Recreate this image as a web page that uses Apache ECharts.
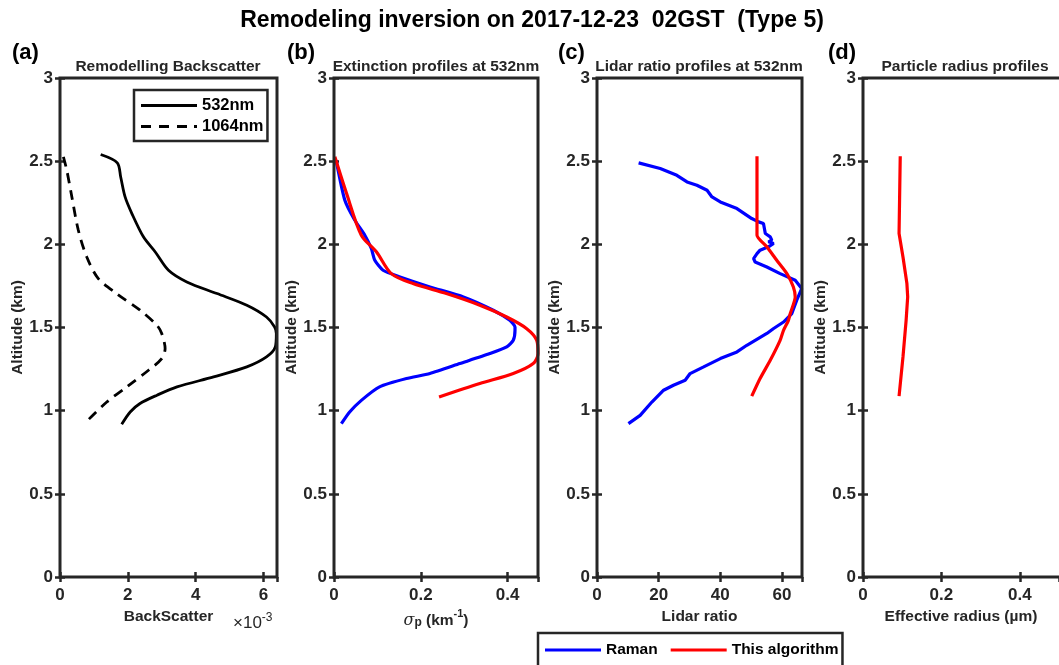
<!DOCTYPE html>
<html>
<head>
<meta charset="utf-8">
<script src="https://cdn.jsdelivr.net/npm/echarts@6/dist/echarts.min.js"></script>
<style>
html,body{margin:0;padding:0;background:#fff;}
#chart{width:1059px;height:665px;}
</style>
</head>
<body>
<div id="chart"></div>
<script>
// ---- Data ----
// Panel (a): backscatter in units of 1e-3, altitude in km
var bsc532Val = [1.20,1.69,1.79,1.92,2.12,2.46,2.81,3.20,3.74,4.63,5.51,6.09,6.33,6.38,6.35,6.09,5.51,4.53,3.45,2.86,2.36,2.07,1.82];
var bsc532Alt = [2.54,2.49,2.405,2.285,2.185,2.045,1.954,1.844,1.774,1.704,1.634,1.563,1.503,1.464,1.383,1.323,1.263,1.203,1.143,1.093,1.043,0.992,0.918];
var bsc1064Val = [0.10,0.20,0.35,0.54,0.79,1.13,1.67,2.36,2.86,3.00,3.10,3.00,2.61,1.97,1.38,0.77];
var bsc1064Alt = [2.526,2.446,2.285,2.085,1.924,1.794,1.704,1.604,1.513,1.464,1.373,1.313,1.243,1.143,1.052,0.932];

// Panel (b): extinction (km^-1)
var extRamanVal = [0.005,0.025,0.048,0.071,0.086,0.094,0.113,0.152,0.221,0.298,0.367,0.405,0.417,0.417,0.413,0.398,0.359,0.290,0.221,0.167,0.105,0.063,0.036,0.017];
var extRamanAlt = [2.505,2.265,2.145,2.055,1.975,1.904,1.844,1.804,1.744,1.684,1.604,1.543,1.503,1.483,1.423,1.383,1.343,1.283,1.223,1.193,1.143,1.062,0.992,0.922];
var extAlgoVal = [0.002,0.029,0.063,0.098,0.132,0.182,0.259,0.336,0.398,0.444,0.467,0.470,0.459,0.413,0.336,0.242];
var extAlgoAlt = [2.526,2.305,2.055,1.954,1.824,1.764,1.704,1.634,1.563,1.493,1.423,1.343,1.283,1.223,1.163,1.082];

// Panel (c): lidar ratio
var lrRamanVal = [13.5,20.5,25.9,29.2,32.4,35.7,37.3,40.0,45.4,50.2,52.4,54.0,54.6,56.2,56.7,55.6,57.3,55.6,52.9,51.9,50.8,51.3,55.1,59.4,64.3,66.4,64.8,63.2,60.5,57.3,55.1,48.6,45.4,40.0,34.6,30.2,28.6,24.8,21.6,17.8,14.0,10.2];
var lrRamanAlt = [2.49,2.456,2.415,2.375,2.355,2.325,2.285,2.255,2.215,2.155,2.135,2.125,2.065,2.045,2.025,2.015,2.005,1.985,1.965,1.944,1.914,1.894,1.864,1.824,1.784,1.734,1.664,1.584,1.533,1.494,1.464,1.393,1.353,1.313,1.263,1.223,1.183,1.153,1.123,1.052,0.972,0.922];
var lrAlgoVal = [51.9,51.9,55.1,58.3,61.6,63.7,64.3,62.7,62.1,60.5,59.4,56.2,52.9,50.2];
var lrAlgoAlt = [2.53,2.055,1.985,1.904,1.824,1.744,1.684,1.584,1.543,1.483,1.423,1.303,1.193,1.087];

// Panel (d): effective radius (um)
var reffVal = [0.095,0.092,0.102,0.112,0.114,0.110,0.102,0.092];
var reffAlt = [2.53,2.065,1.924,1.764,1.684,1.543,1.323,1.087];

var altTicks = {min:0, max:3, interval:0.5};
var panelTitles = ['Remodelling Backscatter','Extinction profiles at 532nm','Lidar ratio profiles at 532nm','Particle radius profiles'];
var panelLetters = ['(a)','(b)','(c)','(d)'];
var xRanges = [{min:0,max:6.4,interval:2},{min:0,max:0.47,interval:0.2},{min:0,max:66.5,interval:20},{min:0,max:0.5,interval:0.2}];

function pairs(xs, ys){ return xs.map(function(x,i){ return [x, ys[i]]; }); }

// ---- Layout ----
var INK = '#262626';
var FONT = '"Liberation Sans", Arial, sans-serif';
var grids = [
  {left:60, top:78, width:217, height:499},
  {left:334, top:78, width:204, height:499},
  {left:597, top:78, width:205, height:499},
  {left:863, top:78, width:205, height:499}
];

var xAxes = [], yAxes = [];
var xNames = ['BackScatter', '{s|σ}{sub|p}{n| (km}{sup|-1}{n|)}', 'Lidar ratio', 'Effective radius (µm)'];
for (var i=0;i<4;i++){
  xAxes.push({
    type:'value', gridIndex:i, position:'bottom',
    min:xRanges[i].min, max:xRanges[i].max, interval:xRanges[i].interval,
    axisLine:{show:false}, splitLine:{show:false},
    axisTick:{show:true, inside:true, length:5, lineStyle:{color:INK,width:2.5}},
    axisLabel:{show:true, showMaxLabel:false, color:INK, fontWeight:'bold', fontSize:17, fontFamily:FONT, margin:10},
    name: xNames[i], nameLocation:'middle', nameGap:30,
    nameTextStyle:{color:INK, fontWeight:'bold', fontSize:15.5, fontFamily:FONT,
      rich:{
        s:{fontFamily:'"DejaVu Serif", serif', fontStyle:'italic', fontWeight:'normal', fontSize:16, color:INK, verticalAlign:'bottom', lineHeight:20},
        sub:{fontSize:12, fontWeight:'bold', color:INK, fontFamily:FONT, verticalAlign:'bottom', lineHeight:13},
        sup:{fontSize:11, fontWeight:'bold', color:INK, fontFamily:FONT, verticalAlign:'top', lineHeight:13},
        n:{fontSize:15.5, fontWeight:'bold', color:INK, fontFamily:FONT, verticalAlign:'bottom', lineHeight:20}
      }}
  });
  xAxes.push({
    type:'value', gridIndex:i, position:'top',
    min:xRanges[i].min, max:xRanges[i].max, interval:xRanges[i].interval,
    axisLine:{show:false}, splitLine:{show:false}, axisLabel:{show:false},
    axisTick:{show:true, inside:true, length:5, lineStyle:{color:INK,width:2.5}}
  });
  yAxes.push({
    type:'value', gridIndex:i, position:'left',
    min:altTicks.min, max:altTicks.max, interval:altTicks.interval,
    axisLine:{show:false}, splitLine:{show:false},
    axisTick:{show:true, inside:true, length:5, lineStyle:{color:INK,width:2.5}},
    axisLabel:{show:true, color:INK, fontWeight:'bold', fontSize:17, fontFamily:FONT, margin:7},
    name:'Altitude (km)', nameLocation:'middle', nameGap:30, nameRotate:90,
    nameTextStyle:{color:INK, fontWeight:'bold', fontSize:15.5, fontFamily:FONT}
  });
  yAxes.push({
    type:'value', gridIndex:i, position:'right',
    min:altTicks.min, max:altTicks.max, interval:altTicks.interval,
    axisLine:{show:false}, splitLine:{show:false}, axisLabel:{show:false},
    axisTick:{show:true, inside:true, length:5, lineStyle:{color:INK,width:2.5}}
  });
}

function line(name, xs, ys, gi, color, type, width, smooth){
  return {
    name:name, type:'line', xAxisIndex:gi*2, yAxisIndex:gi*2,
    data:pairs(xs, ys), symbol:'none', showSymbol:false, smooth:smooth||false,
    lineStyle:{color:color, width:width, type:type||'solid'}, itemStyle:{color:color},
    animation:false, silent:true
  };
}

var series = [
  line('532nm', bsc532Val, bsc532Alt, 0, '#000000', 'solid', 2.8, 0.3),
  line('1064nm', bsc1064Val, bsc1064Alt, 0, '#000000', [10,7], 2.8, 0.3),
  line('Raman', extRamanVal, extRamanAlt, 1, '#0000FF', 'solid', 3.2, 0.2),
  line('This algorithm', extAlgoVal, extAlgoAlt, 1, '#FF0000', 'solid', 3.2, 0.3),
  line('Raman', lrRamanVal, lrRamanAlt, 2, '#0000FF', 'solid', 3.2, false),
  line('This algorithm', lrAlgoVal, lrAlgoAlt, 2, '#FF0000', 'solid', 3.2, 0.2),
  line('This algorithm', reffVal, reffAlt, 3, '#FF0000', 'solid', 3.2, false)
];

var SOLID_ICON = 'path://M0,0h56v3h-56z';
var DASH_ICON = 'path://M0,0h10v3h-10zM18,0h10v3h-10zM36,0h10v3h-10zM53,0h3v3h-3z';

var graphics = [
  {type:'text', x:532, y:21, style:{text:'Remodeling inversion on 2017-12-23  02GST  (Type 5)', font:'bold 23px '+FONT, fill:'#000', textAlign:'center', textVerticalAlign:'middle'}},
  {type:'text', x:233, y:622, style:{
    text:'{a|×10}{b|-3}', textVerticalAlign:'middle',
    rich:{a:{font:'17px '+FONT, fill:INK, verticalAlign:'bottom', lineHeight:20}, b:{font:'12px '+FONT, fill:INK, verticalAlign:'top', lineHeight:13}}
  }}
];
var letterX = [12, 287, 558, 828];
var subX = [168, 436, 699, 965];
for (var k=0;k<4;k++){
  graphics.push({type:'text', x:letterX[k], y:53, style:{text:panelLetters[k], font:'bold 22px '+FONT, fill:'#000', textVerticalAlign:'middle'}});
  graphics.push({type:'text', x:subX[k], y:67, style:{text:panelTitles[k], font:'bold 15.5px '+FONT, fill:INK, textAlign:'center', textVerticalAlign:'middle'}});
  graphics.push({type:'rect', shape:{x:grids[k].left, y:grids[k].top, width:grids[k].width, height:grids[k].height}, style:{fill:'none', stroke:INK, lineWidth:3}, z:10});
}

var option = {
  backgroundColor:'#ffffff',
  animation:false,
  grid:grids,
  xAxis:xAxes,
  yAxis:yAxes,
  legend:[
    {data:[{name:'532nm', icon:SOLID_ICON},{name:'1064nm', icon:DASH_ICON}], orient:'vertical', left:134, top:90, itemWidth:56, itemHeight:3, itemGap:4,
     padding:[7,4,6,7], borderColor:INK, borderWidth:2.5, backgroundColor:'#fff',
     textStyle:{color:'#000', fontWeight:'bold', fontSize:16.5, fontFamily:FONT}, selectedMode:false},
    {data:[{name:'Raman', icon:SOLID_ICON},{name:'This algorithm', icon:SOLID_ICON}], orient:'horizontal', left:538, top:633, itemWidth:56, itemHeight:3, itemGap:13,
     padding:[9,4,9,7], borderColor:INK, borderWidth:2.5, backgroundColor:'#fff',
     textStyle:{color:'#000', fontWeight:'bold', fontSize:15.5, fontFamily:FONT}, selectedMode:false}
  ],
  graphic:graphics,
  series:series
};

var chart = echarts.init(document.getElementById('chart'), null, {renderer:'canvas'});
chart.setOption(option);
</script>
</body>
</html>
